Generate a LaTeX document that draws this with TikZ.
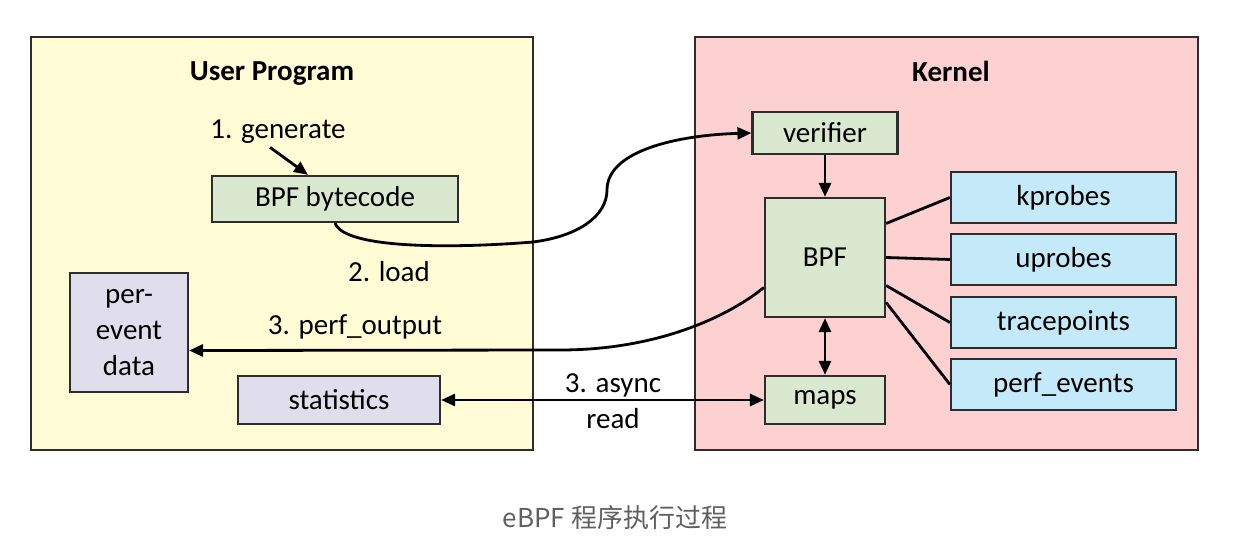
\documentclass[tikz,border=0pt]{standalone}
\usepackage{fontspec}
\setmainfont{Carlito}
\newfontfamily\cjkfont{Noto Sans CJK SC}
\usetikzlibrary{arrows.meta,calc}
\definecolor{userbg}{RGB}{255,252,214}
\definecolor{kernbg}{RGB}{253,208,210}
\definecolor{greenbox}{RGB}{217,232,207}
\definecolor{bluebox}{RGB}{196,234,250}
\definecolor{purplebox}{RGB}{224,221,236}
\definecolor{edge}{RGB}{45,45,45}
\definecolor{capgray}{RGB}{95,95,95}

\begin{document}
\begin{tikzpicture}[x=1pt,y=-1pt,
    every node/.style={font=\fontsize{29}{36}\selectfont},
    panel/.style={draw=edge,line width=1.5pt},
    box/.style={draw=edge,line width=2.2pt,inner sep=0pt,align=center},
    link/.style={line width=2.8pt},
    arr/.style={line width=2.8pt,-{Triangle[length=14pt,width=12pt]}},
    arrs/.style={line width=2.8pt,{Triangle[length=14pt,width=12pt]}-{Triangle[length=14pt,width=12pt]}}]
  \useasboundingbox (0,0) rectangle (1235,546);
  \draw[panel,fill=userbg] (31,37) rectangle (533,450);
  \draw[panel,fill=kernbg] (695,37) rectangle (1198,450);
  \node[font=\fontsize{29}{36}\selectfont\bfseries] (user) at (272,74) {User Program};
  \node[font=\fontsize{29}{36}\selectfont\bfseries] (kernel) at (951,71) {Kernel};

  \node (gen) at (278,132) {1. generate};
  \node[box,fill=greenbox,minimum width=246pt,minimum height=46pt] (bytecode) at (335,199) {BPF bytecode};
  \node (load) at (389,272) {2. load};
  \node[box,fill=purplebox,minimum width=118pt,minimum height=119pt] (perevent) at (129,332.5) {per-\\event\\data};
  \node (perfout) at (355,327) {3. perf\_output};
  \node[box,fill=purplebox,minimum width=202pt,minimum height=48pt] (stats) at (339,400) {statistics};
  \node[align=center] (async) at (613,401) {3. async\\read};

  \node[box,fill=greenbox,minimum width=145pt,minimum height=42pt] (verifier) at (825,133) {verifier};
  \node[box,fill=greenbox,minimum width=120pt,minimum height=119pt] (bpf) at (825,257.5) {BPF};
  \node[box,fill=greenbox,minimum width=120pt,minimum height=48pt] (maps) at (825,400) {maps};
  \foreach \name/\y/\txt in {kprobes/197.5/kprobes,uprobes/259.5/uprobes,tracepoints/322.5/tracepoints,perfevents/384.5/perf\_events}
    \node[box,fill=bluebox,minimum width=225pt,minimum height=51pt] (\name) at (1063.5,\y) {\txt};

  \draw[arr] ($(gen.south)+(-8,0)$) -- ($(bytecode.north)+(-27,0)$);
  \draw[arr] (bytecode.south) .. controls (345,250) and (460,248) .. (533,242)
    .. controls (580,236) and (607,215) .. (607,190)
    .. controls (607,150) and (680,135) .. (verifier.west);
  \draw[arr] (verifier.south) -- (bpf.north);
  \draw[arrs] (bpf.south) -- (maps.north);
  \draw[arrs] (stats.east) -- (maps.west);
  \coordinate (outtip) at ($(perevent.east)+(0,18)$);
  \draw[arr] ($(bpf.west)+(0,30)$) .. controls (730,315) and (660,350) .. (560,350) -- (outtip);
  \draw[link] ($(bpf.east)+(0,-34)$) -- (kprobes.west);
  \draw[link] (bpf.east) -- (uprobes.west);
  \draw[link] ($(bpf.east)+(0,28)$) -- (tracepoints.west);
  \draw[link] ($(bpf.east)+(0,45)$) -- (perfevents.west);

  \node[font=\cjkfont\fontsize{26}{30}\selectfont,text=capgray] (caption) at (615,518) {eBPF 程序执行过程};
\end{tikzpicture}
\end{document}
